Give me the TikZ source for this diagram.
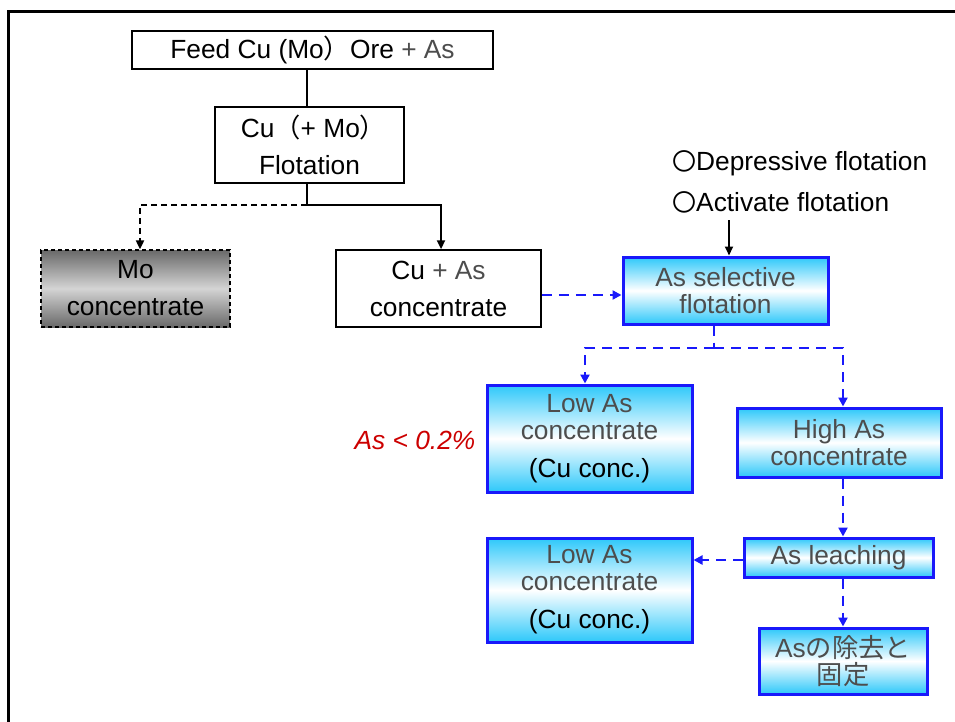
\documentclass[tikz,border=0pt]{standalone}
\usepackage{fontspec}
\setmainfont{Liberation Sans}
\newfontfamily\jp{Noto Sans CJK JP}
\usetikzlibrary{arrows.meta,calc}

\definecolor{txtgray}{RGB}{77,77,77}
\definecolor{boxblue}{RGB}{25,25,250}
\definecolor{skycyan}{RGB}{45,200,250}
\definecolor{darkgray}{RGB}{105,105,105}
\definecolor{lightgray}{RGB}{212,212,212}
\definecolor{redtxt}{RGB}{204,0,0}

\tikzset{
  base/.style={font=\fontsize{26.3pt}{37pt}\selectfont, align=center, inner sep=0pt},
  plainbox/.style={base, draw=black, line width=1.5pt, fill=white},
  graybox/.style={base, draw=black, line width=1.2pt, dash pattern=on 4pt off 3pt,
    top color=darkgray, bottom color=darkgray, middle color=lightgray},
  bluebox/.style={base, font=\fontsize{26.3pt}{27pt}\selectfont, text=txtgray,
    draw=boxblue, line width=3pt,
    top color=skycyan, bottom color=skycyan, middle color=white},
  blkline/.style={draw=black, line width=2.2pt},
  blkarrow/.style={blkline, -{Triangle[length=9pt,width=8pt]}},
  bluearrow/.style={draw=boxblue, line width=2.7pt, dash pattern=on 10pt off 7pt,
    -{Triangle[length=9pt,width=9pt]}},
  note/.style={base}
}

\begin{document}
\begin{tikzpicture}[x=1pt,y=-1pt]
  \useasboundingbox (0,0) rectangle (955,722);

  % frame around the slide
  \draw[line width=3pt] (8,740) -- (8,12) -- (970,12);

  % boxes
  \node[plainbox, minimum width=361pt, minimum height=38pt] (feed) at (312.5,50)
    {Feed Cu (Mo{\jp ）}Ore {\color{txtgray}+ As}};
  \node[plainbox, minimum width=189pt, minimum height=76pt] (flot) at (309.5,145)
    {\hspace*{8pt}Cu{\jp （}+ Mo{\jp ）}\\Flotation};
  \node[graybox, minimum width=189pt, minimum height=77pt] (mo) at (135.5,288.5)
    {Mo\\concentrate};
  \node[plainbox, minimum width=205pt, minimum height=77pt] (cuas) at (438.5,288.5)
    {Cu {\color{txtgray}+ As}\\concentrate};
  \node[bluebox, minimum width=205pt, minimum height=67pt] (sel) at (725.5,290.5)
    {As selective\\flotation};
  \node[bluebox, minimum width=205pt, minimum height=107pt] (low1) at (589.5,438.5)
    {Low As\\concentrate\\[11pt]\textcolor{black}{(Cu conc.)}};
  \node[bluebox, minimum width=204pt, minimum height=69pt] (high) at (839,442.5)
    {High As\\concentrate};
  \node[bluebox, minimum width=189pt, minimum height=39pt] (leach) at (838.5,557.5)
    {As leaching};
  \node[bluebox, minimum width=205pt, minimum height=104pt] (low2) at (589.5,590)
    {Low As\\concentrate\\[11pt]\textcolor{black}{(Cu conc.)}};
  \node[bluebox, minimum width=168pt, minimum height=66pt] (fix) at (843,661)
    {As{\jp の除去と}\\{\jp 固定}};

  % annotations
  \node[note, anchor=west] (dep) at (672,163) {{\jp\fontsize{24pt}{30pt}\selectfont 〇}Depressive flotation};
  \node[note, anchor=west] (act) at (672,202) {{\jp\fontsize{24pt}{30pt}\selectfont 〇}Activate flotation};
  \node[note, text=redtxt, font=\fontsize{26.3pt}{30pt}\selectfont\itshape] (lim) at (415,440)
    {As < 0.2\%};

  % junction points
  \coordinate (split) at (307,205);
  \coordinate (split2) at (714,348);
  \coordinate (actfoot) at (729,220);

  % connectors
  \draw[blkline] (flot.north -| split) -- (feed.south -| split);
  \draw[blkline] (flot.south -| split) -- (split);
  \draw[blkarrow] (split) -| ([xshift=2.5pt]cuas.north);
  \draw[blkline, dash pattern=on 6pt off 4pt, line width=1.8pt,
        -{Triangle[length=9pt,width=8pt]}] (split) -| ([xshift=4.5pt]mo.north);
  \draw[bluearrow] (cuas.east |- 0,295) -- (sel.west |- 0,295);
  \draw[blkarrow, line width=1.8pt] (actfoot) -- (sel.north -| actfoot);
  \draw[bluearrow, -] (sel.south -| split2) -- (split2);
  \draw[bluearrow] (split2) -| ([xshift=-4.5pt]low1.north);
  \draw[bluearrow] (split2) -| ([xshift=4pt]high.north);
  \draw[bluearrow] ([xshift=4pt]high.south) -- ([xshift=4.5pt]leach.north);
  \draw[bluearrow] (leach.west |- 0,560) -- (low2.east |- 0,560);
  \draw[bluearrow] ([xshift=4.5pt]leach.south) -- (fix.north);
\end{tikzpicture}
\end{document}
